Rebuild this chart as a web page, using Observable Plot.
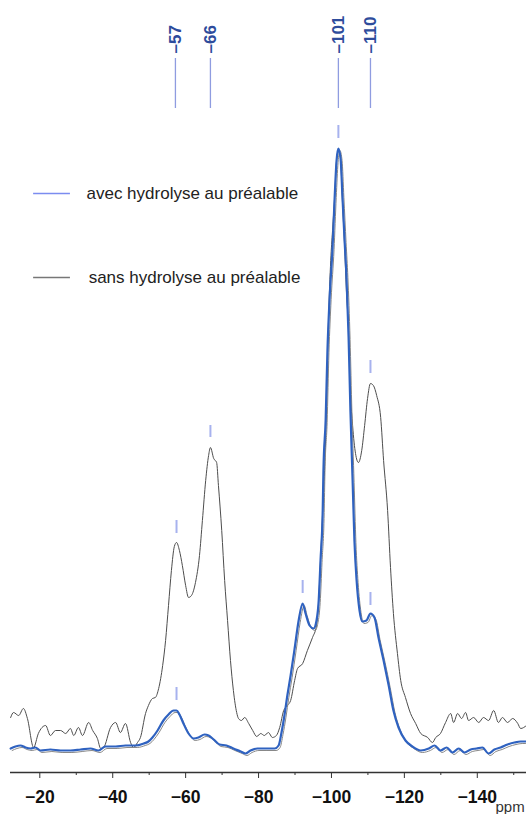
<!DOCTYPE html>
<html><head><meta charset="utf-8">
<script src="https://cdn.jsdelivr.net/npm/d3@7"></script>
<script src="https://cdn.jsdelivr.net/npm/@observablehq/plot@0.6"></script>
<style>body{margin:0;background:#fff;} #chart{width:526px;height:814px;overflow:hidden}</style>
</head><body><div id="chart"></div>
<script>
// sans hydrolyse (black, noisy)
const blackPpm = [-12.0,-12.8,-14.2,-15.5,-16.6,-18.3,-19.6,-21.6,-22.9,-24.3,-25.7,-27.1,-28.4,-29.3,-30.6,-31.7,-33.4,-34.5,-35.8,-36.7,-37.5,-39.4,-40.8,-42.1,-43.5,-44.9,-45.7,-46.8,-47.6,-49.0,-49.8,-50.9,-51.7,-52.6,-53.7,-54.5,-55.3,-56.1,-56.9,-57.5,-58.3,-59.1,-60.0,-60.8,-61.6,-62.7,-63.8,-64.6,-65.5,-66.3,-66.8,-67.7,-68.5,-69.0,-69.9,-70.7,-71.5,-72.3,-73.1,-74.0,-74.5,-75.3,-76.2,-77.3,-78.4,-79.5,-80.6,-81.6,-82.7,-83.8,-84.9,-85.8,-86.9,-87.9,-88.8,-89.9,-90.7,-92.1,-93.4,-94.8,-95.9,-96.5,-97.0,-97.6,-98.1,-98.7,-99.2,-99.8,-100.3,-100.9,-101.4,-101.9,-102.5,-103.0,-103.6,-104.1,-104.7,-105.2,-105.8,-106.6,-107.4,-108.3,-109.1,-109.9,-110.7,-111.5,-112.4,-113.5,-114.3,-115.4,-116.2,-117.0,-118.1,-119.0,-120.3,-121.7,-123.1,-124.5,-126.4,-127.7,-128.6,-129.9,-131.3,-132.7,-133.5,-134.6,-135.7,-136.8,-137.6,-139.0,-140.4,-141.7,-143.1,-144.5,-145.8,-146.9,-148.3,-149.7,-151.1,-151.9,-153.5];
const blackInt = [55,60,57,64,54,25,39,47,37,42,42,39,44,37,45,37,50,42,34,24,25,45,50,40,49,30,25,30,35,59,67,74,75,84,107,132,167,202,226,230,222,207,187,175,177,190,217,252,292,317,325,314,310,287,242,192,152,112,82,60,54,52,55,49,42,36,39,37,40,35,37,45,62,67,72,92,104,109,122,135,147,172,212,262,302,372,452,512,542,577,612,622,614,572,527,482,442,382,347,319,310,322,347,374,389,387,377,355,312,262,205,159,119,92,75,59,49,39,35,30,35,39,50,59,50,59,54,60,52,55,50,55,52,62,50,55,50,54,49,44,47];
// avec hydrolyse (blue)
const bluePpm = [-12.0,-13.3,-14.7,-16.1,-17.5,-18.8,-20.2,-22.9,-25.7,-28.4,-31.2,-33.9,-36.1,-38.0,-40.8,-43.5,-46.3,-48.5,-49.8,-50.9,-52.3,-53.9,-55.3,-56.7,-57.5,-58.3,-59.4,-60.8,-62.2,-63.5,-65.2,-66.3,-67.7,-69.3,-71.2,-73.1,-75.1,-76.4,-77.8,-79.7,-81.9,-84.4,-85.5,-86.3,-87.1,-87.9,-88.8,-89.9,-91.0,-92.1,-92.9,-94.0,-95.1,-95.9,-96.5,-97.0,-97.6,-97.8,-98.4,-98.9,-99.5,-100.3,-100.9,-101.4,-101.9,-102.5,-103.0,-103.6,-104.1,-104.7,-105.2,-105.8,-106.3,-106.9,-107.7,-108.5,-109.6,-110.7,-111.8,-112.9,-114.3,-115.7,-117.0,-118.4,-120.3,-122.2,-124.5,-126.7,-128.3,-129.9,-131.6,-133.2,-134.9,-136.5,-138.2,-139.8,-141.4,-143.1,-144.7,-146.4,-148.3,-150.2,-151.9,-153.5];
const blueInt = [24,26,27,25,24,25,22,23,22,22,23,24,22,26,26,27,27,29,31,35,42,52,58,62,62,58,49,39,34,35,38,37,33,28,27,24,21,19,22,24,24,24,27,40,57,77,97,124,152,169,159,147,144,152,172,212,262,302,352,422,475,525,577,612,624,614,577,532,497,435,362,292,232,192,162,151,152,159,155,135,112,87,62,45,32,26,22,24,27,22,25,20,24,20,23,24,25,19,23,25,28,30,31,31];
const seriesNames = ["avec hydrolyse au préalable", "sans hydrolyse au préalable"];
const peakLabels = ["–57", "–66", "–101", "–110"];
const peakPpm = [-57.2, -66.8, -101.9, -110.7];
const markerPpm = [-101.9, -57.5, -66.8, -110.7, -57.5, -92.1, -110.7];
const markerLow = [634, 239, 335, 399, 72, 179, 167];
const markerHigh = [647, 252, 347, 412, 85, 192, 180];
const majorTicks = [-20, -40, -60, -80, -100, -120, -140];
const minorTicks = [-30, -50, -70, -90, -110, -130, -150];

const black = blackPpm.map((p, i) => ({ppm: p, v: blackInt[i]}));
const blue = bluePpm.map((p, i) => ({ppm: p, v: blueInt[i]}));
const markers = markerPpm.map((p, i) => ({ppm: p, lo: markerLow[i], hi: markerHigh[i]}));
const peaks = peakPpm.map((p, i) => ({ppm: p, label: peakLabels[i]}));

const chart = Plot.plot({
  width: 526, height: 814,
  marginLeft: 10, marginRight: 0, marginTop: 0, marginBottom: 42,
  style: {fontFamily: "'Liberation Sans', Arial, Helvetica, sans-serif", background: "#fff"},
  x: {domain: [-11.96, -153.5], axis: null},
  y: {domain: [0, 772], axis: null},
  marks: [
    Plot.ruleY([0], {stroke: "#333", strokeWidth: 1.5}),
    Plot.axisX({ticks: majorTicks, tickSize: 6, tickPadding: 12, fontSize: 17.5, fontWeight: "bold", stroke: "#333", fill: "#111", label: null, tickFormat: d => "−" + Math.abs(d)}),
    Plot.axisX({ticks: minorTicks, tickSize: 3, stroke: "#333", label: null, tickFormat: () => ""}),
    Plot.text(["ppm"], {x: -145, y: 0, dy: 35, textAnchor: "start", fontSize: 15, fill: "#333"}),
    Plot.line(black, {x: "ppm", y: "v", stroke: "#4d4d4d", strokeWidth: 1, curve: "monotone-x"}),
    Plot.line(blue, {x: "ppm", y: "v", stroke: "#888", strokeWidth: 1, dx: 1.5, dy: 2, curve: "monotone-x"}),
    Plot.line(blue, {x: "ppm", y: "v", stroke: "#2f62c0", strokeWidth: 2.2, curve: "monotone-x"}),
    Plot.ruleX(markers, {x: "ppm", y1: "lo", y2: "hi", stroke: "#a7b2ee", strokeWidth: 2}),
    Plot.ruleX(peaks, {x: "ppm", y1: 664, y2: 714, stroke: "#8f9ce0", strokeWidth: 1.3}),
    Plot.text(peaks, {x: "ppm", y: 719, text: "label", rotate: -90, textAnchor: "start", lineAnchor: "middle", fontSize: 17, fontWeight: "bold", fill: "#2e4c9c"}),
    Plot.ruleY([579], {x1: -18.3, x2: -28.4, stroke: "#7b8cf0", strokeWidth: 1.5}),
    Plot.ruleY([495], {x1: -18.3, x2: -28.4, stroke: "#777", strokeWidth: 1.5}),
    Plot.text([seriesNames[0]], {x: -32.8, y: 579, text: d => d, textAnchor: "start", fontSize: 17, fill: "#222"}),
    Plot.text([seriesNames[1]], {x: -33.4, y: 495, text: d => d, textAnchor: "start", fontSize: 17, fill: "#222"})
  ]
});
document.getElementById("chart").appendChild(chart);
</script></body></html>
